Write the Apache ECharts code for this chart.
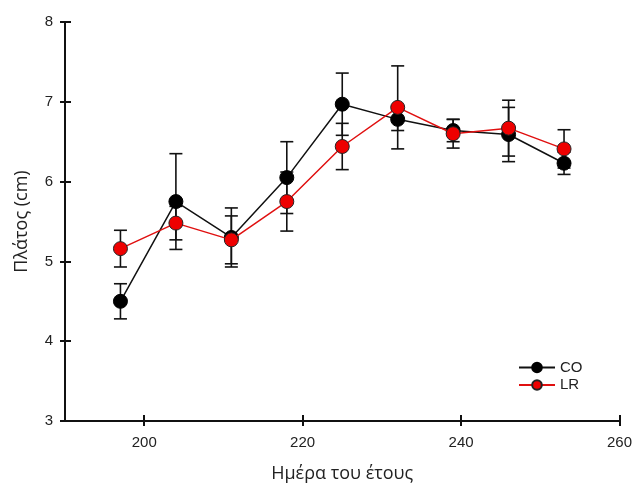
<!DOCTYPE html>
<html><head><meta charset="utf-8">
<script src="https://cdn.jsdelivr.net/npm/echarts@6/dist/echarts.min.js"></script>
<style>html,body{margin:0;padding:0;background:#fff}#c{width:635px;height:488px}</style>
</head><body><div id="c"></div>
<script>
var days = [197, 204, 211, 218, 225, 232, 239, 246, 253];
var coMean = [4.50, 5.75, 5.30, 6.05, 6.97, 6.78, 6.64, 6.59, 6.23];
var coErr  = [0.22, 0.60, 0.37, 0.45, 0.39, 0.14, 0.14, 0.34, 0.14];
var lrMean = [5.16, 5.48, 5.27, 5.75, 6.44, 6.93, 6.60, 6.67, 6.41];
var lrErr  = [0.23, 0.21, 0.30, 0.37, 0.29, 0.52, 0.18, 0.35, 0.24];
var xTicks = [200, 220, 240, 260];
var seriesNames = ['CO', 'LR'];

var FONT = 'Liberation Sans, Arial, sans-serif';
var TFONT = 'Open Sans, sans-serif';
function pairs(m){ return days.map(function(d,i){ return [d, m[i]]; }); }
function errData(m,e){ return days.map(function(d,i){ return [d, m[i]-e[i], m[i]+e[i]]; }); }
function errSeries(m,e){
  return {
    type:'custom', xAxisIndex:0, yAxisIndex:0, z:1, silent:true,
    data: errData(m,e),
    renderItem: function(params, api){
      var x = api.value(0);
      var lo = api.coord([x, api.value(1)]);
      var hi = api.coord([x, api.value(2)]);
      var w = 6.5;
      var st = {stroke:'#111', lineWidth:1.6};
      return {type:'group', children:[
        {type:'line', shape:{x1:lo[0],y1:lo[1],x2:hi[0],y2:hi[1]}, style:st},
        {type:'line', shape:{x1:lo[0]-w,y1:lo[1],x2:lo[0]+w,y2:lo[1]}, style:st},
        {type:'line', shape:{x1:hi[0]-w,y1:hi[1],x2:hi[0]+w,y2:hi[1]}, style:st}
      ]};
    }
  };
}
var chart = echarts.init(document.getElementById('c'));
chart.setOption({
  animation:false,
  textStyle:{fontFamily:FONT},
  grid:{left:65, top:22, right:14, bottom:66},
  legend:{
    left:513, top:355, orient:'vertical', itemWidth:36, itemHeight:12, itemGap:2.5,
    data: seriesNames,
    textStyle:{fontFamily:FONT, fontSize:15, color:'#222', lineHeight:12}
  },
  xAxis:[
    {type:'value', min:190, max:260,
     name:'Ημέρα του έτους', nameLocation:'middle', nameGap:44,
     nameTextStyle:{fontFamily:TFONT, fontSize:18, color:'#222'},
     axisLine:{lineStyle:{color:'#111', width:2}},
     axisTick:{show:true, length:5, lineStyle:{color:'#111', width:2}, customValues:xTicks},
     axisLabel:{fontFamily:FONT, fontSize:15, color:'#222', margin:14, customValues:xTicks},
     splitLine:{show:false}},
    {type:'value', min:190, max:260, position:'bottom',
     axisLine:{show:false},
     axisTick:{show:true, inside:true, length:6, lineStyle:{color:'#111', width:2}, customValues:xTicks},
     axisLabel:{show:false}, splitLine:{show:false}}
  ],
  yAxis:[
    {type:'value', min:3, max:8, interval:1,
     name:'Πλάτος (cm)', nameLocation:'middle', nameGap:34,
     nameTextStyle:{fontFamily:TFONT, fontSize:18, color:'#222'},
     axisLine:{show:true, lineStyle:{color:'#111', width:2}},
     axisTick:{show:true, length:5, lineStyle:{color:'#111', width:2}},
     axisLabel:{fontFamily:FONT, fontSize:15, color:'#222', margin:12},
     splitLine:{show:false}},
    {type:'value', min:3, max:8, interval:1, position:'left',
     axisLine:{show:false},
     axisTick:{show:true, inside:true, length:6, lineStyle:{color:'#111', width:2}},
     axisLabel:{show:false}, splitLine:{show:false}}
  ],
  series:[
    errSeries(coMean, coErr),
    errSeries(lrMean, lrErr),
    {name:'CO', type:'line', data:pairs(coMean), z:3,
     symbol:'circle', symbolSize:14,
     lineStyle:{color:'#111', width:1.5},
     itemStyle:{color:'#000', borderColor:'#000', borderWidth:1}},
    {name:'LR', type:'line', data:pairs(lrMean), z:4,
     symbol:'circle', symbolSize:14,
     lineStyle:{color:'#e01010', width:1.5},
     itemStyle:{color:'#ee0000', borderColor:'#222', borderWidth:1}}
  ]
});
</script></body></html>
